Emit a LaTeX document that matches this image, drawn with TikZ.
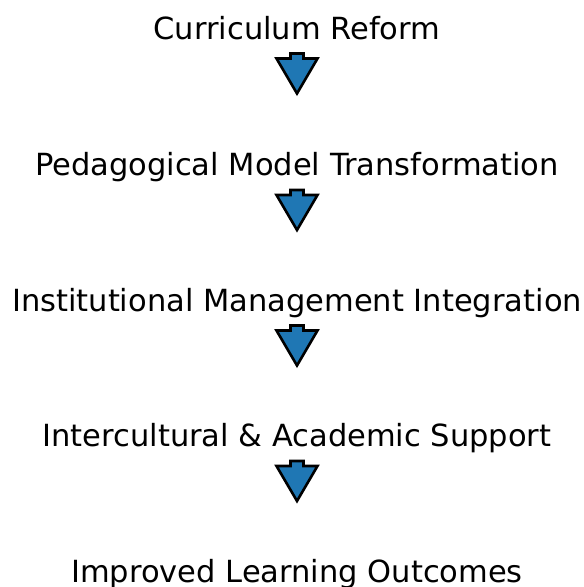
\documentclass[tikz,border=0pt]{standalone}
\usepackage{fontspec}
\setmainfont{DejaVu Sans}
\usetikzlibrary{calc}
\definecolor{stepblue}{HTML}{1F77B4}
\begin{document}
\begin{tikzpicture}
  [x=1pt,y=1pt,every node/.style={inner sep=0pt,anchor=base,font=\fontsize{30.5}{36}\selectfont},
   flowarrow/.style={fill=stepblue,draw=black,line width=2.6pt,line join=miter}]
  \useasboundingbox (0,0) rectangle (584,-587);
  \node (s1) at (297,-39)    {Curriculum Reform};
  \node (s2) at (297,-175.5) {Pedagogical Model Transformation};
  \node (s3) at (297,-311)   {Institutional Management Integration};
  \node (s4) at (297,-446.5) {Intercultural \& Academic Support};
  \node (s5) at (297,-582)   {Improved Learning Outcomes};

  \foreach \from/\to in {s1/s2,s2/s3,s3/s4,s4/s5}
    \draw[flowarrow] ($(\from.base)+(-6.5,-14.5)$) -- ++(13,0) -- ++(0,-5) -- ++(14,0)
      -- ($(\from.base)+(0,-54.5)$) -- ($(\from.base)+(-20.5,-19.5)$) -- ++(14,0) -- cycle;

\end{tikzpicture}
\end{document}
